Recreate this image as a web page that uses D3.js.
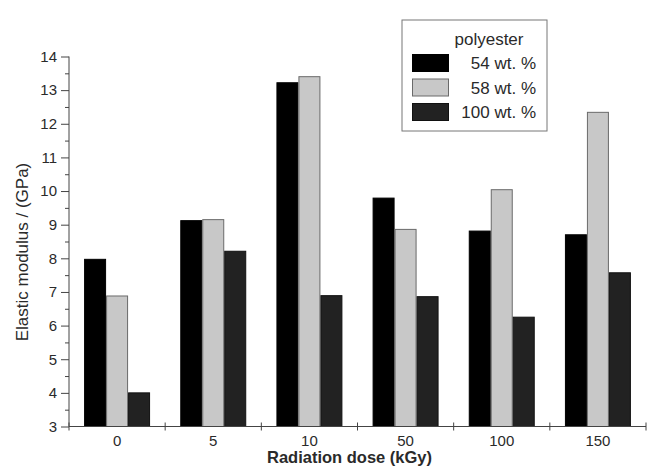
<!DOCTYPE html>
<meta charset="utf-8">
<head>
    <title>Elastic modulus</title>
    <script src="https://d3js.org/d3.v7.min.js"></script>
    <style>
        html, body { margin: 0; padding: 0; background: #fff; }
        svg text { font-family: "Liberation Sans", Arial, sans-serif; fill: #2a2a2a; }
        .axis path, .axis line { stroke: #444; }
    </style>
</head>
<body>
<svg width="650" height="474"></svg>
<script>

// data
var doses = ["0", "5", "10", "50", "100", "150"];
var seriesNames = ["54 wt. %", "58 wt. %", "100 wt. %"];
var wt54 = [7.97, 9.12, 13.22, 9.79, 8.81, 8.70];
var wt58 = [6.88, 9.15, 13.40, 8.86, 10.04, 12.34];
var wt100 = [4.00, 8.21, 6.89, 6.86, 6.25, 7.57];
var yTicks = [3, 4, 5, 6, 7, 8, 9, 10, 11, 12, 13, 14];

var fills = ["#000000", "#c8c8c8", "#222222"];
var strokes = ["#000000", "#6a6a6a", "#111111"];

var svg = d3.select("svg"),
    margin = {top: 56.5, right: 4, bottom: 47.5, left: 69},
    width = +svg.attr("width") - margin.left - margin.right,
    height = +svg.attr("height") - margin.top - margin.bottom;

var g = svg.append("g")
    .attr("transform", "translate(" + margin.left + "," + margin.top + ")");

var x0 = d3.scaleBand().domain(doses).range([0, width]).padding(0);
var x1 = d3.scaleBand().domain(seriesNames)
    .range([x0.bandwidth() * 0.157, x0.bandwidth() * 0.843]).padding(0);
var y = d3.scaleLinear().domain([3, 14]).range([height, 0]);

var table = doses.map(function(d, i) {
    return {dose: d, values: [wt54[i], wt58[i], wt100[i]]};
});

// bars
var groups = g.selectAll(".grp")
    .data(table)
    .enter().append("g")
    .attr("class", "grp")
    .attr("transform", d => "translate(" + x0(d.dose) + ",0)");

groups.selectAll("rect")
    .data(d => d.values.map((v, k) => ({name: seriesNames[k], k: k, v: v})))
    .enter().append("rect")
    .attr("x", d => x1(d.name) + 0.5)
    .attr("width", x1.bandwidth() - 1)
    .attr("y", d => y(d.v))
    .attr("height", d => y(3) - y(d.v))
    .attr("fill", d => fills[d.k])
    .attr("stroke", d => strokes[d.k])
    .attr("stroke-width", 1);

// y axis: major + minor
var yAxis = g.append("g").attr("class", "axis")
    .call(d3.axisLeft(y).tickValues(yTicks).tickSize(8).tickPadding(4).tickFormat(d3.format("d")));
yAxis.selectAll("text").style("font-size", "15px");
yAxis.select(".domain").attr("d", "M0," + y(14) + "V" + y(3));

g.append("g").attr("class", "axis")
    .call(d3.axisLeft(y).tickValues(d3.range(3.5, 14, 1)).tickSize(4).tickFormat(""))
    .select(".domain").remove();

// x axis: labels at centres, ticks at group boundaries
var xAxis = g.append("g").attr("class", "axis")
    .attr("transform", "translate(0," + height + ")")
    .call(d3.axisBottom(x0).tickSize(0).tickPadding(9));
xAxis.selectAll("text").style("font-size", "15px");
xAxis.select(".domain").attr("d", "M0,0H" + width);

var bounds = doses.map(d => x0(d)).concat([width]);
xAxis.selectAll(".bound")
    .data(bounds)
    .enter().append("line")
    .attr("class", "bound")
    .attr("x1", d => d).attr("x2", d => d)
    .attr("y1", -4).attr("y2", 4)
    .attr("stroke", "#444");

// axis titles
svg.append("text")
    .attr("x", margin.left + width / 2 - 8)
    .attr("y", 463)
    .attr("text-anchor", "middle")
    .style("font-size", "16.5px")
    .style("font-weight", "bold")
    .text("Radiation dose (kGy)");

svg.append("text")
    .attr("transform", "translate(28,252) rotate(-90)")
    .attr("text-anchor", "middle")
    .style("font-size", "17px")
    .text("Elastic modulus / (GPa)");

// legend
var legend = svg.append("g").attr("transform", "translate(402,20)");
legend.append("rect")
    .attr("width", 145).attr("height", 111)
    .attr("fill", "#fff").attr("stroke", "#777").attr("stroke-width", 1);
legend.append("text")
    .attr("x", 87).attr("y", 25)
    .attr("text-anchor", "middle")
    .style("font-size", "17px")
    .text("polyester");
var items = legend.selectAll(".item")
    .data(seriesNames)
    .enter().append("g")
    .attr("class", "item")
    .attr("transform", (d, i) => "translate(0," + (34 + i * 24.5) + ")");
items.append("rect")
    .attr("x", 10.5).attr("y", 0.5)
    .attr("width", 36).attr("height", 17)
    .attr("fill", (d, i) => fills[i])
    .attr("stroke", (d, i) => strokes[i]);
items.append("text")
    .attr("x", 134).attr("y", 15)
    .attr("text-anchor", "end")
    .style("font-size", "17px")
    .text(d => d);

</script>
</body>
</html>
